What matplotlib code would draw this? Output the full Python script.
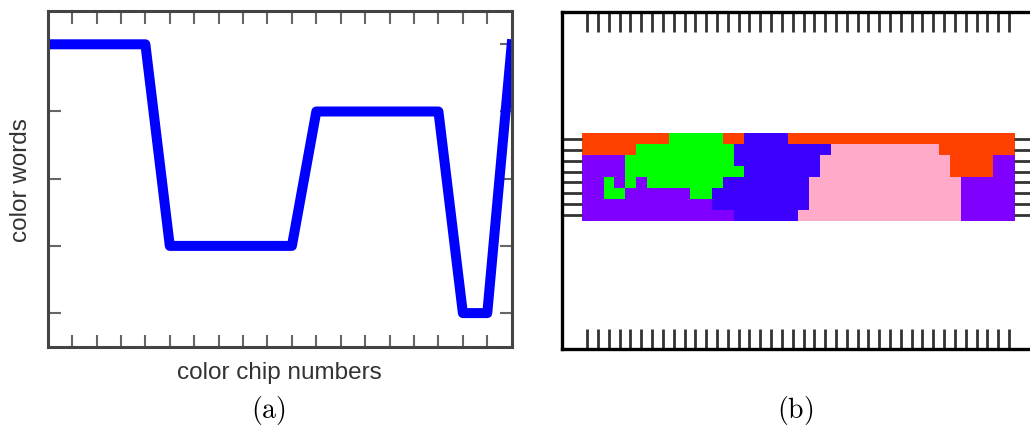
import matplotlib
matplotlib.use('Agg')
import numpy as np
from matplotlib import pyplot as plt
from matplotlib.colors import ListedColormap

# (a) colour word chosen for each chip along one row
chip_numbers = list(range(20))
color_word = [5, 5, 5, 5, 5, 2, 2, 2, 2, 2, 2, 4, 4, 4, 4, 4, 4, 1, 1, 5]

# (b) term map, 8 rows x 40 chips, given as runs of (term, count)
term_runs = [
    [('R', 8), ('G', 5), ('R', 2), ('B', 4), ('R', 21)],
    [('R', 5), ('G', 9), ('B', 9), ('K', 10), ('R', 7)],
    [('P', 4), ('G', 10), ('B', 8), ('K', 12), ('R', 4), ('P', 2)],
    [('P', 4), ('G', 11), ('B', 7), ('K', 12), ('R', 4), ('P', 2)],
    [('P', 2), ('G', 1), ('P', 1), ('G', 1), ('P', 1), ('G', 7), ('B', 8), ('K', 14), ('P', 5)],
    [('P', 2), ('G', 2), ('P', 6), ('G', 2), ('B', 9), ('K', 14), ('P', 5)],
    [('P', 12), ('B', 9), ('K', 14), ('P', 5)],
    [('P', 14), ('B', 6), ('K', 15), ('P', 5)],
]
terms = ['R', 'G', 'B', 'P', 'K']
term_colors = ['#ff4000', '#00ff00', '#3c00ff', '#8000ff', '#ffaac8']

grid = []
for runs in term_runs:
    row = []
    for t, n in runs:
        row += [terms.index(t)] * n
    assert len(row) == 40
    grid.append(row)
grid = np.array(grid)

fig = plt.figure(figsize=(10.3, 4.35), dpi=100)

# ---- panel (a)
ax1 = fig.add_axes([0.0463, 0.2007, 0.4505, 0.7724])
ax1.plot(chip_numbers, color_word, color='#0000ff', linewidth=7.2)
ax1.set_xlim(0, 19)
ax1.set_ylim(0.5, 5.5)
ax1.set_xticks(range(1, 19))
ax1.set_yticks(range(1, 6))
ax1.tick_params(direction='in', length=9, width=1.5, color='#666666',
                top=True, right=True, labelbottom=False, labelleft=False)
for s in ax1.spines.values():
    s.set_linewidth(2.2)
    s.set_color('#444444')
ax1.set_xlabel('color chip numbers', fontsize=17.5, color='#333333', family='Liberation Sans')
ax1.set_ylabel('color words', fontsize=17.5, color='#333333', family='Liberation Sans')
ax1.xaxis.set_label_coords(0.5, -0.043)
ax1.yaxis.set_label_coords(-0.034, 0.5)

# ---- panel (b)
ax2 = fig.add_axes([0.546, 0.1954, 0.4577, 0.7754])
ax2.imshow(grid, cmap=ListedColormap(term_colors), vmin=-0.5, vmax=4.5,
           interpolation='nearest', aspect='auto')
ax2.set_xlim(-2.3, 41.3)
ax2.set_ylim(19.27, -11.66)
ax2.set_xticks(range(40))
ax2.set_yticks(range(8))
ax2.tick_params(direction='in', length=14.5, width=2.0, color='#333333',
                top=True, right=True, labelbottom=False, labelleft=False)
for s in ax2.spines.values():
    s.set_linewidth(2.4)
    s.set_color('black')

plt.rcParams['mathtext.fontset'] = 'cm'
fig.text(268 / 1030, 1 - 411 / 435, r'$\mathrm{(a)}$', fontsize=20, ha='center', va='center')
fig.text(795 / 1030, 1 - 411 / 435, r'$\mathrm{(b)}$', fontsize=20, ha='center', va='center')

fig.savefig('out.png', dpi=100)
